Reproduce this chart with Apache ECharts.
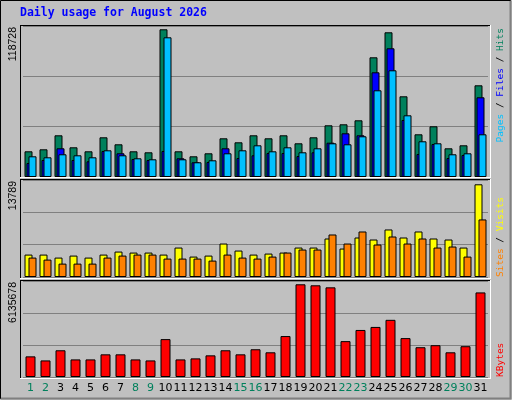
<!DOCTYPE html>
<html><head><meta charset="utf-8">
<script src="https://cdn.jsdelivr.net/npm/echarts@6/dist/echarts.min.js"></script>
<style>html,body{margin:0;padding:0;background:#c0c0c0}#c{width:512px;height:400px}</style>
</head><body><div id="c"></div>
<script>
const days = ['1','2','3','4','5','6','7','8','9','10','11','12','13','14','15','16','17','18','19','20','21','22','23','24','25','26','27','28','29','30','31'];
const weekend = [1,2,8,9,15,16,22,23,29,30];
const hits = [20660,22260,33520,23870,20660,31910,26280,20660,19850,118728,20660,16640,19050,31110,27890,33520,31110,33520,27090,31910,41560,42360,45580,96210,116310,64870,34320,40750,23070,25480,73710];
const files = [11250,13660,23070,13660,12620,20900,19050,14470,13660,20900,15030,11820,12060,23070,15270,17440,19290,19290,16880,19850,27570,35130,33520,84160,103450,45820,18490,26530,15270,17680,64060];
const pages = [16640,15830,18250,17440,15830,21460,17440,15030,14230,112290,14230,11820,13420,19050,21460,25480,20660,23870,19850,23070,27090,26280,32710,69690,85760,49590,28700,27090,18250,19050,34320];
const visits = [3335,3335,2887,3186,2887,3335,3783,3634,3634,3335,4381,3037,3186,4978,3933,3335,3485,3634,4381,4381,5725,4231,5874,5575,7069,5874,6770,5725,5575,4381,13789];
const sites = [2887,2589,1991,1991,1991,2887,3186,3335,3335,2738,2738,2738,2439,3335,2887,2738,3037,3634,4082,4082,6322,4978,6770,4829,6023,4978,5725,4381,4530,3037,8562];
const kbytes = [1366000,1097000,1769000,1164000,1164000,1500000,1500000,1164000,1097000,2508000,1164000,1232000,1433000,1769000,1500000,1836000,1635000,2710000,6135678,6069000,5934000,2374000,3113000,3314000,3784000,2575000,1971000,2105000,1635000,2038000,5598000];
const tickLabels = ['118728','13789','6135678'];
const title = 'Daily usage for August 2026';

const ch = echarts.init(document.getElementById('c'));
const panels = [{top:26,h:151,max:121380},{top:180,h:97,max:14429},{top:281,h:96,max:6354100}];
const grids = panels.map(p=>({left:23,width:465,top:p.top,height:p.h,containLabel:false}));
const xAxes = panels.map((p,i)=>({type:'category',gridIndex:i,data:days,axisLine:{show:false},axisTick:{show:false},
  axisLabel:i<2?{show:false}:{show:true,interval:0,margin:6,fontSize:11,fontFamily:'DejaVu Sans',
   formatter:v=>weekend.includes(+v)?'{g|'+v+'}':'{b|'+v+'}',rich:{g:{color:'#00805c',fontSize:11,fontFamily:'DejaVu Sans'},b:{color:'#000',fontSize:11,fontFamily:'DejaVu Sans'}}}}));
const yAxes = panels.map((p,i)=>({type:'value',gridIndex:i,min:0,max:p.max,interval:p.max/3,axisLabel:{show:false},axisLine:{show:false},axisTick:{show:false},
  splitLine:{show:true,lineStyle:{color:'#808080',width:1}}}));
const bs = {borderColor:'#000',borderWidth:1};
const series = [
 {type:'bar',xAxisIndex:0,yAxisIndex:0,data:hits,barWidth:8,barGap:'-75%',itemStyle:Object.assign({color:'#00805c'},bs),animation:false},
 {type:'bar',xAxisIndex:0,yAxisIndex:0,data:files,barWidth:8,barGap:'-75%',itemStyle:Object.assign({color:'#0000ff'},bs),animation:false},
 {type:'bar',xAxisIndex:0,yAxisIndex:0,data:pages,barWidth:8,barGap:'-75%',itemStyle:Object.assign({color:'#00c0ff'},bs),animation:false},
 {type:'bar',xAxisIndex:1,yAxisIndex:1,data:visits,barWidth:8,barGap:'-50%',itemStyle:Object.assign({color:'#ffff00'},bs),animation:false},
 {type:'bar',xAxisIndex:1,yAxisIndex:1,data:sites,barWidth:8,barGap:'-50%',itemStyle:Object.assign({color:'#ff8000'},bs),animation:false},
 {type:'bar',xAxisIndex:2,yAxisIndex:2,data:kbytes,barWidth:10,itemStyle:Object.assign({color:'#ff0000'},bs),animation:false}
];
const frames = [[25,177],[179,278],[280,378]];
const graphic = [
 {type:'rect',shape:{x:0.5,y:0.5,width:510,height:398},style:{fill:null,stroke:'#000',lineWidth:1},z:-1},
 {type:'line',shape:{x1:510.5,y1:1,x2:510.5,y2:399},style:{stroke:'#808080',lineWidth:2}},
 {type:'line',shape:{x1:1,y1:398.5,x2:511,y2:398.5},style:{stroke:'#808080',lineWidth:2}},
 {type:'text',left:20,top:7,style:{text:title,fill:'#0000ff',font:'bold 11.5px "DejaVu Sans Mono"'}}
];
frames.forEach(f=>{
 graphic.push({type:'line',shape:{x1:20,y1:f[0]+0.5,x2:490,y2:f[0]+0.5},style:{stroke:'#000',lineWidth:1},z:10});
 graphic.push({type:'line',shape:{x1:20.5,y1:f[0],x2:20.5,y2:f[1]},style:{stroke:'#000',lineWidth:1},z:10});
 graphic.push({type:'line',shape:{x1:490.5,y1:f[0],x2:490.5,y2:f[1]},style:{stroke:'#fff',lineWidth:1},z:10});
 graphic.push({type:'line',shape:{x1:20,y1:f[1]+0.5,x2:491,y2:f[1]+0.5},style:{stroke:'#fff',lineWidth:1},z:10});
});
const yl = [[13,27],[13,181],[13,282]];
tickLabels.forEach((t,i)=>graphic.push({type:'text',x:yl[i][0],y:yl[i][1],rotation:Math.PI/2,
  style:{text:t,fill:'#000',font:'10.5px "Liberation Sans"',align:'right',verticalAlign:'middle'}}));
const mono = '9.5px "DejaVu Sans Mono"';
function rl(x,y,align,parts){
 const rich={};let txt='';
 parts.forEach((p,k)=>{rich['p'+k]={fill:p[1],font:mono};txt+='{p'+k+'|'+p[0]+'}';});
 graphic.push({type:'text',x:x,y:y,rotation:Math.PI/2,style:{text:txt,rich:rich,align:align,verticalAlign:'middle'}});
}
rl(501,28,'right',[['Pages','#00c0ff'],[' / ','#000'],['Files','#0000ff'],[' / ','#000'],['Hits','#00805c']]);
rl(501,277,'left',[['Sites','#ff8000'],[' / ','#000'],['Visits','#ffff00']]);
rl(501,377,'left',[['KBytes','#ff0000']]);
ch.setOption({animation:false,backgroundColor:'#c0c0c0',grid:grids,xAxis:xAxes,yAxis:yAxes,series:series,graphic:graphic});
</script></body></html>
